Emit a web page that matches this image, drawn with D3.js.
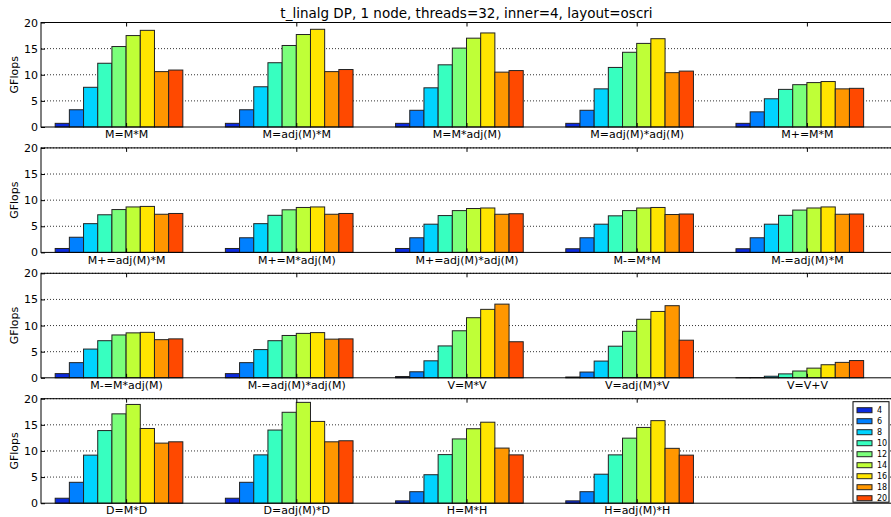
<!DOCTYPE html>
<html>
<head>
<meta charset="utf-8">
<script src="https://cdn.jsdelivr.net/npm/d3@7"></script>
<style>
  body { margin: 0; background: #fff; }
  svg { display: block; font-family: "DejaVu Sans", sans-serif; }
</style>
</head>
<body>
<svg width="891" height="517"></svg>
<script>
// matrix sizes (legend) and their jet colours
const sizes = [4, 6, 8, 10, 12, 14, 16, 18, 20];
const colors = ["#0a2ae0", "#0080ff", "#00d4ff", "#37ffc0", "#7bff7b", "#bfff37", "#ffe500", "#ff9700", "#ff4900"];
const yTicks = [0, 5, 10, 15, 20];

const row1Ops = ["M=M*M", "M=adj(M)*M", "M=M*adj(M)", "M=adj(M)*adj(M)", "M+=M*M"];
const row1Values = [
  [0.7, 3.3, 7.6, 12.2, 15.4, 17.5, 18.5, 10.6, 10.9],
  [0.7, 3.3, 7.7, 12.3, 15.6, 17.7, 18.7, 10.6, 11.0],
  [0.7, 3.2, 7.5, 11.9, 15.1, 17.0, 18.0, 10.5, 10.8],
  [0.7, 3.2, 7.3, 11.4, 14.3, 16.0, 16.9, 10.4, 10.7],
  [0.7, 2.9, 5.4, 7.2, 8.1, 8.5, 8.7, 7.3, 7.4]
];

const row2Ops = ["M+=adj(M)*M", "M+=M*adj(M)", "M+=adj(M)*adj(M)", "M-=M*M", "M-=adj(M)*M"];
const row2Values = [
  [0.75, 2.9, 5.5, 7.2, 8.2, 8.7, 8.8, 7.3, 7.45],
  [0.75, 2.8, 5.5, 7.1, 8.15, 8.6, 8.7, 7.3, 7.45],
  [0.75, 2.8, 5.4, 7.05, 8.0, 8.4, 8.5, 7.3, 7.4],
  [0.7, 2.8, 5.4, 7.0, 8.0, 8.5, 8.6, 7.25, 7.35],
  [0.7, 2.8, 5.4, 7.1, 8.1, 8.5, 8.7, 7.3, 7.35]
];

const row3Ops = ["M-=M*adj(M)", "M-=adj(M)*adj(M)", "V=M*V", "V=adj(M)*V", "V=V+V"];
const row3Values = [
  [0.8, 2.9, 5.5, 7.1, 8.2, 8.6, 8.7, 7.3, 7.45],
  [0.8, 2.9, 5.4, 7.1, 8.1, 8.5, 8.65, 7.4, 7.45],
  [0.25, 1.15, 3.25, 6.1, 9.0, 11.5, 13.1, 14.1, 6.9],
  [0.15, 1.1, 3.2, 6.05, 8.9, 11.2, 12.7, 13.8, 7.2],
  [0.02, 0.05, 0.3, 0.75, 1.3, 1.85, 2.5, 2.95, 3.3]
];

const row4Ops = ["D=M*D", "D=adj(M)*D", "H=M*H", "H=adj(M)*H"];
const row4Values = [
  [0.95, 4.0, 9.2, 13.9, 17.1, 18.9, 14.3, 11.5, 11.75],
  [0.95, 4.0, 9.25, 14.0, 17.4, 19.3, 15.65, 11.75, 11.95],
  [0.45, 2.2, 5.45, 9.3, 12.3, 14.25, 15.5, 10.55, 9.25],
  [0.45, 2.2, 5.55, 9.25, 12.45, 14.5, 15.8, 10.5, 9.2]
];

const rows = [
  {ops: row1Ops, values: row1Values},
  {ops: row2Ops, values: row2Values},
  {ops: row3Ops, values: row3Values},
  {ops: row4Ops, values: row4Values}
];

const svg = d3.select('svg');
const left = 41, right = 892, top0 = 22.5, panelH = 104.5, step = 125.4;

const x = d3.scaleLinear().domain([0, 5]).range([left, right]);
const color = d3.scaleOrdinal().domain(sizes).range(colors);

svg.append('text')
  .attr('x', (left + right) / 2)
  .attr('y', 18)
  .attr('text-anchor', 'middle')
  .attr('font-size', '13.5px')
  .text('t_linalg DP, 1 node, threads=32, inner=4, layout=oscri');

rows.forEach(function(row, r) {
  const top = top0 + r * step;
  const y = d3.scaleLinear().domain([0, 20]).range([top + panelH, top]);
  const g = svg.append('g');

  // dotted grid
  g.selectAll('.grid')
    .data(yTicks.slice(1))
    .join('line')
    .attr('x1', left).attr('x2', right)
    .attr('y1', d => y(d)).attr('y2', d => y(d))
    .attr('stroke', '#333')
    .attr('stroke-width', 1)
    .attr('stroke-dasharray', '1,2');

  // bars
  const groups = g.selectAll('.grp')
    .data(row.values)
    .join('g');

  groups.selectAll('rect')
    .data((vals, i) => vals.map((v, j) => ({i: i, j: j, v: v})))
    .join('rect')
    .attr('x', d => x(d.i + (d.j + 1) / 12))
    .attr('width', x(1 / 12) - x(0))
    .attr('y', d => y(d.v))
    .attr('height', d => y(0) - y(d.v))
    .attr('fill', d => color(sizes[d.j]))
    .attr('stroke', '#222')
    .attr('stroke-width', 1);

  // frame
  g.append('rect')
    .attr('x', left).attr('y', top)
    .attr('width', right - left).attr('height', panelH)
    .attr('fill', 'none')
    .attr('stroke', '#000')
    .attr('stroke-width', 1);

  // y axis, ticks pointing inward
  const yAxis = d3.axisLeft(y).tickValues(yTicks).tickSize(-4).tickPadding(3);
  const ya = g.append('g').attr('transform', `translate(${left},0)`).call(yAxis);
  ya.select('.domain').remove();
  ya.selectAll('text').attr('font-size', '11px').attr('font-family', '"DejaVu Sans", sans-serif').attr('fill', '#000');

  // x ticks on top and bottom, labels below
  const ticks = row.ops.map((op, i) => i + 0.5);
  const xTop = d3.axisTop(x).tickValues(ticks).tickSize(-4).tickFormat('');
  const xt = g.append('g').attr('transform', `translate(0,${top})`).call(xTop);
  xt.select('.domain').remove();
  const xBot = d3.axisBottom(x).tickValues(ticks).tickSize(-4).tickPadding(3.5)
    .tickFormat((d, i) => row.ops[i]);
  const xb = g.append('g').attr('transform', `translate(0,${top + panelH})`).call(xBot);
  xb.select('.domain').remove();
  xb.selectAll('text').attr('font-size', '11px').attr('font-family', '"DejaVu Sans", sans-serif').attr('fill', '#000');

  g.append('text')
    .attr('transform', `translate(18,${top + panelH / 2}) rotate(-90)`)
    .attr('text-anchor', 'middle')
    .attr('font-size', '11px')
    .text('GFlops');
});

// legend
const lg = svg.append('g');
const lgTop = top0 + 3 * step + 3, lgLeft = 853;
lg.append('rect')
  .attr('x', lgLeft).attr('y', lgTop)
  .attr('width', 36).attr('height', 100.5)
  .attr('fill', '#fff').attr('stroke', '#000').attr('stroke-width', 1);
const items = lg.selectAll('.item')
  .data(sizes)
  .join('g')
  .attr('transform', (d, i) => `translate(${lgLeft + 4},${lgTop + 6 + i * 11})`);
items.append('rect')
  .attr('width', 15).attr('height', 5)
  .attr('fill', d => color(d))
  .attr('stroke', '#222').attr('stroke-width', 1);
items.append('text')
  .attr('x', 20).attr('y', 5.5)
  .attr('font-size', '8px')
  .text(d => d);
</script>
</body>
</html>
